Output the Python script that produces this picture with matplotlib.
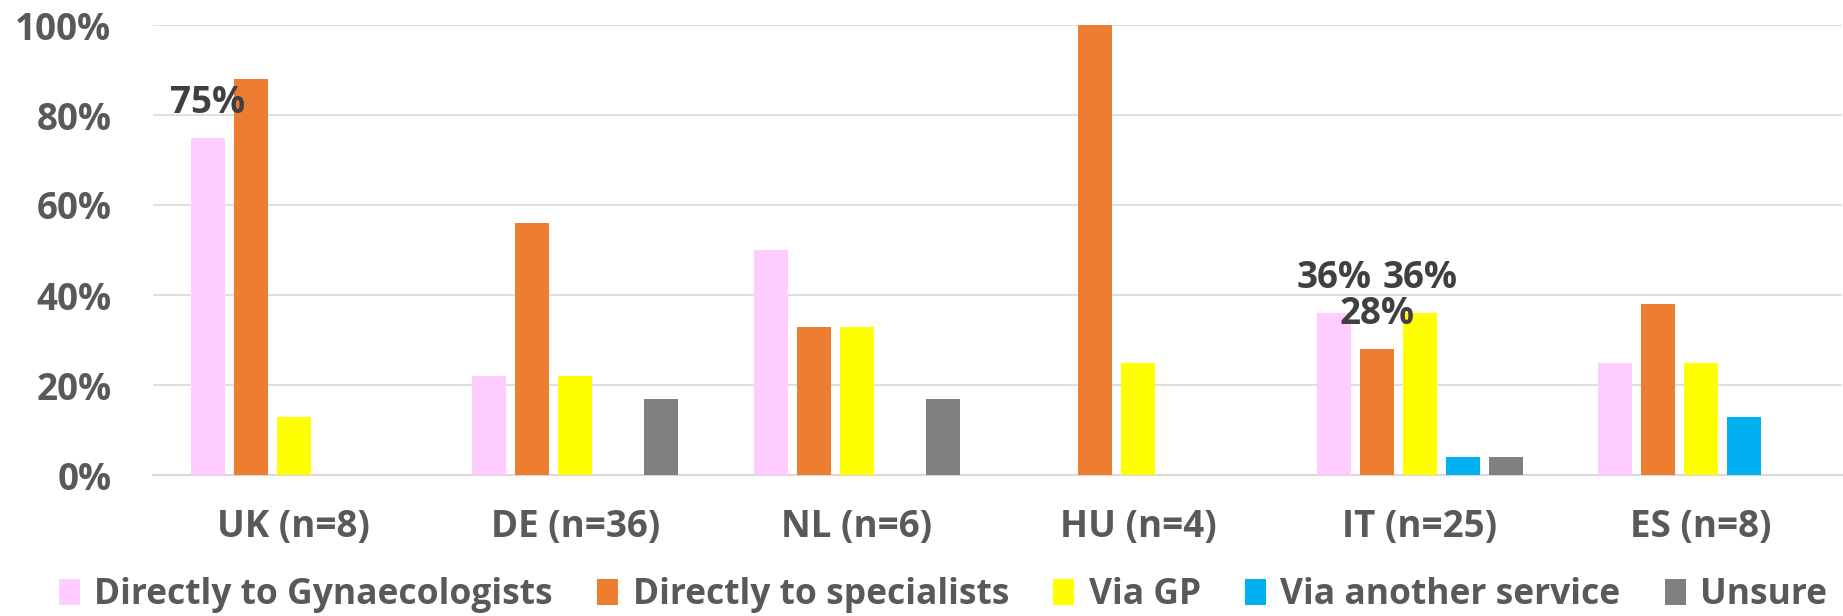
import numpy as np
import matplotlib.pyplot as plt
from matplotlib.patches import Patch

plt.rcParams['font.family'] = ['Open Sans', 'DejaVu Sans']
plt.rcParams['font.weight'] = 'bold'

countries = ["UK (n=8)", "DE (n=36)", "NL (n=6)", "HU (n=4)", "IT (n=25)", "ES (n=8)"]
series = ["Directly to Gynaecologists", "Directly to specialists", "Via GP",
          "Via another service", "Unsure"]
colors = ["#FFCCFF", "#ED7D31", "#FFFF00", "#00B0F0", "#808080"]

gynae = [75, 22, 50, 0, 36, 25]
specialists = [88, 56, 33, 100, 28, 38]
via_gp = [13, 22, 33, 25, 36, 25]
other_service = [0, 0, 0, 0, 4, 13]
unsure = [0, 17, 17, 0, 4, 0]
values = [gynae, specialists, via_gp, other_service, unsure]

# data labels shown in the original (series index, country index)
labelled = [(0, 0), (0, 4), (1, 4), (2, 4)]

fig = plt.figure(figsize=(18.43, 6.16), dpi=100)
ax = fig.add_axes([153 / 1843, 141 / 616, 1689 / 1843, 450 / 616])

x = np.arange(len(countries))
pitch = 0.153
width = 0.12
for i, (name, vals, col) in enumerate(zip(series, values, colors)):
    ax.bar(x + (i - 2) * pitch, [v / 100 for v in vals], width, color=col, zorder=3)

for si, ci in labelled:
    v = values[si][ci]
    ax.annotate(f"{v}%", (x[ci] + (si - 2) * pitch, v / 100), xytext=(0, 25),
                textcoords="offset points", ha="center", va="center",
                fontsize=26.5, fontweight="bold", color="#404040", zorder=5)

ax.set_xlim(-0.5, 5.5)
ax.set_ylim(0, 1)
ax.set_yticks(np.arange(0, 1.01, 0.2))
ax.set_yticklabels([f"{int(t * 100)}%" for t in np.arange(0, 1.01, 0.2)])
ax.set_xticks(x)
ax.set_xticklabels(countries)
ax.tick_params(axis="y", length=0, pad=30, labelsize=26.5, labelcolor="#595959")
ax.tick_params(axis="x", length=0, pad=24, labelsize=26.5, labelcolor="#595959")
ax.grid(axis="y", color="#D9D9D9", linewidth=1.2, zorder=0)
for s in ["top", "right", "left"]:
    ax.spines[s].set_visible(False)
ax.spines["bottom"].set_color("#D9D9D9")
ax.spines["bottom"].set_linewidth(1.5)

handles = [Patch(facecolor=c, label=s) for s, c in zip(series, colors)]
fig.legend(handles=handles, loc="center", bbox_to_anchor=(943 / 1843, 21 / 616), ncol=5,
           frameon=False, fontsize=25.5, labelcolor="#595959",
           handlelength=0.6, handleheight=0.75, handletextpad=0.4, columnspacing=1.25,
           borderpad=0.1)

fig.savefig("out.png", dpi=100)
